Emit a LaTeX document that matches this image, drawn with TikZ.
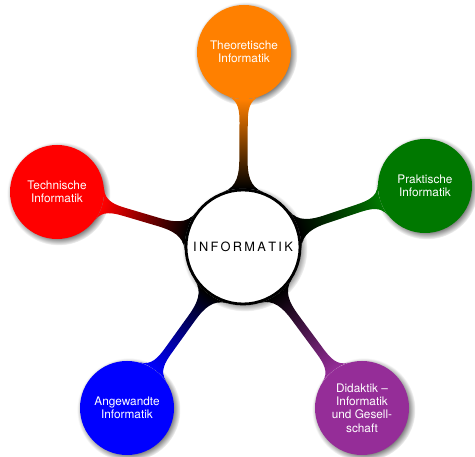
\documentclass[tikz,border=0pt]{standalone}
\usepackage{fontspec}
\setmainfont{TeX Gyre Heros}
\usetikzlibrary{mindmap,shadows}
\definecolor{didaktik}{RGB}{149,45,152}
\definecolor{gruen}{RGB}{0,120,0}
\newcommand\lspk{\kern2.3pt}
\begin{document}
\begin{tikzpicture}[x=1pt,y=1pt,
  childc/.style={circle, minimum size=94pt, inner sep=0pt, text=white,
    font=\fontsize{11.8}{13.2}\selectfont, align=center, circular drop shadow},
  rootc/.style={circle, minimum size=114pt, fill=white, draw=black, line width=2.8pt,
    font=\fontsize{12.8}{14}\selectfont, circular drop shadow},
  barline/.style={line width=9.5pt}
]
\useasboundingbox (0,0) rectangle (475,457);
\node[rootc] (root) at (243,210) {I\lspk N\lspk F\lspk O\lspk R\lspk M\lspk A\lspk T\lspk I\lspk K};
\node[childc, fill=orange] (theo) at (244,405) {Theoretische\\Informatik};
\node[childc, fill=red] (tech) at (57,265) {Technische\\Informatik};
\node[childc, fill=gruen] (prak) at (425,271) {Praktische\\Informatik};
\node[childc, fill=blue] (angew) at (127,49) {Angewandte\\Informatik};
\node[childc, fill=didaktik] (didak) at (362,49) {Didaktik --\\Informatik\\und Gesell-\\schaft};
\path[barline] (root) to[circle connection bar switch color=from (black) to (orange)] (theo);
\path[barline] (root) to[circle connection bar switch color=from (black) to (red)] (tech);
\path[barline] (root) to[circle connection bar switch color=from (black) to (gruen)] (prak);
\path[barline] (root) to[circle connection bar switch color=from (black) to (blue)] (angew);
\path[barline] (root) to[circle connection bar switch color=from (black) to (didaktik)] (didak);
\end{tikzpicture}
\end{document}
